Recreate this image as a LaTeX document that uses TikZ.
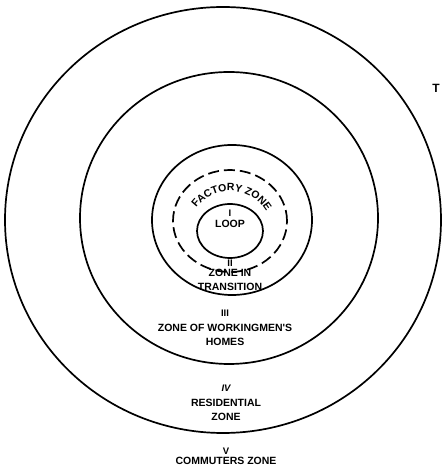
\documentclass[tikz,border=0pt]{standalone}
\usepackage{fontspec}
\newfontfamily\zonefont{Liberation Sans}
\usetikzlibrary{shapes.geometric, positioning, decorations.text}

\begin{document}
\begin{tikzpicture}[
        x=1pt, y=1pt,
        ring/.style={
            ellipse,
            draw=black,
            line width=1.7pt,
            inner sep=0pt,
            outer sep=0pt
        },
        dashring/.style={
            ring,
            dash pattern=on 11pt off 5pt
        },
        numeral/.style={
            font=\zonefont\bfseries\fontsize{9.5}{10}\selectfont,
            inner sep=0pt
        },
        zonename/.style={
            align=center,
            font=\zonefont\bfseries\fontsize{10.5}{13.5}\selectfont,
            inner sep=0pt
        }
    ]

    \useasboundingbox (0,0) rectangle (445,476);

    % the five zones
    \node (commuters) [ring, minimum width=436pt, minimum height=426pt] at (223,256) {};
    \node (residential) [ring, minimum width=298pt, minimum height=292pt] at (229,258) {};
    \node (workingmen) [ring, minimum width=160pt, minimum height=150pt] at (232,256) {};
    \node (factory) [dashring, minimum width=114pt, minimum height=102pt] at (230,255) {};
    \node (loop) [ring, minimum width=66pt, minimum height=54pt] at (230,245) {};

    % labels
    \node (n1) [numeral] at (230,263) {I};
    \node (t1) [zonename, below=4pt of n1] {LOOP};

    \path [decorate, decoration={text along path, text align=center,
        text={|\zonefont\bfseries\fontsize{10.5}{12}\selectfont|FACTORY ZONE}}]
        (230,243) ++(160:42) arc[start angle=160, end angle=14, radius=42];

    \node (n2) [numeral] at (230,213) {II};
    \node (t2) [zonename, below=3pt of n2] {ZONE IN\\TRANSITION};

    \node (n3) [numeral] at (225,163) {III};
    \node (t3) [zonename, below=8pt of n3] {ZONE OF WORKINGMEN'S\\HOMES};

    \node (n4) [numeral] at (226,88) {\itshape IV};
    \node (t4) [zonename, below=8pt of n4] {RESIDENTIAL\\ZONE};

    \node (n5) [numeral] at (226,25) {V};
    \node (t5) [zonename, below=3pt of n5] {COMMUTERS ZONE};

    \node (edge) [zonename, font=\zonefont\bfseries\fontsize{12}{14}\selectfont] at (436,388) {T};

\end{tikzpicture}
\end{document}
